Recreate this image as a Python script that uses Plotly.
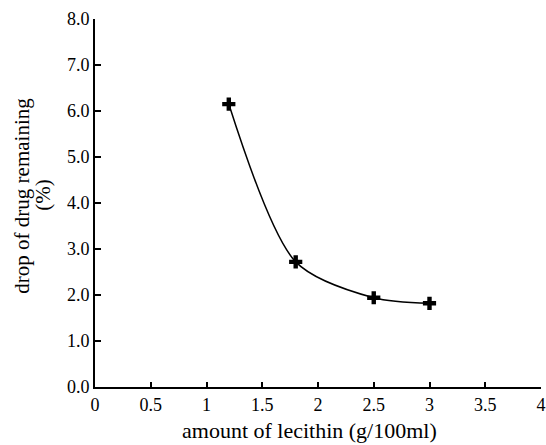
import plotly.graph_objects as go

lecithin = [1.2, 1.8, 2.5, 3.0]
drop_remaining = [6.15, 2.72, 1.94, 1.82]
x_ticks = [0, 0.5, 1, 1.5, 2, 2.5, 3, 3.5, 4]
x_tick_labels = ["0", "0.5", "1", "1.5", "2", "2.5", "3", "3.5", "4"]
y_ticks = [0, 1, 2, 3, 4, 5, 6, 7, 8]
x_title = "amount of lecithin (g/100ml)"
y_title_lines = ["drop of drug remaining", "(%)"]

font = "Liberation Serif, Times New Roman, serif"

fig = go.Figure()
fig.add_trace(go.Scatter(
    x=lecithin, y=drop_remaining, mode="lines+markers",
    line=dict(color="black", width=1.5, shape="spline", smoothing=0.8),
    marker=dict(symbol="cross", size=11, color="black"),
    showlegend=False,
))

fig.update_layout(
    width=546, height=445,
    margin=dict(l=95, r=5, t=19, b=58),
    paper_bgcolor="white", plot_bgcolor="white",
    font=dict(family=font, size=18, color="black"),
)
fig.update_xaxes(
    range=[0, 4], tickvals=x_ticks, ticktext=x_tick_labels,
    showline=True, linecolor="black", linewidth=2,
    ticks="inside", ticklen=5, tickwidth=2, tickcolor="black",
    showgrid=False, zeroline=False, automargin=False,
)
fig.update_yaxes(
    range=[0, 8], tickvals=y_ticks, tickformat=".1f",
    showline=True, linecolor="black", linewidth=2,
    ticks="inside", ticklen=6, tickwidth=2, tickcolor="black",
    showgrid=False, zeroline=False, automargin=False,
)

fig.add_annotation(
    text=x_title, xref="paper", yref="paper", x=0.48, y=0,
    yshift=-43, xanchor="center", yanchor="middle", showarrow=False,
    font=dict(size=22),
)
for i, line in enumerate(y_title_lines):
    fig.add_annotation(
        text=line, xref="paper", yref="paper", x=0, y=0.52,
        xshift=-73 + 21 * i, xanchor="center", yanchor="middle",
        textangle=-90, showarrow=False, font=dict(size=21),
    )

fig.write_html("out.html")
